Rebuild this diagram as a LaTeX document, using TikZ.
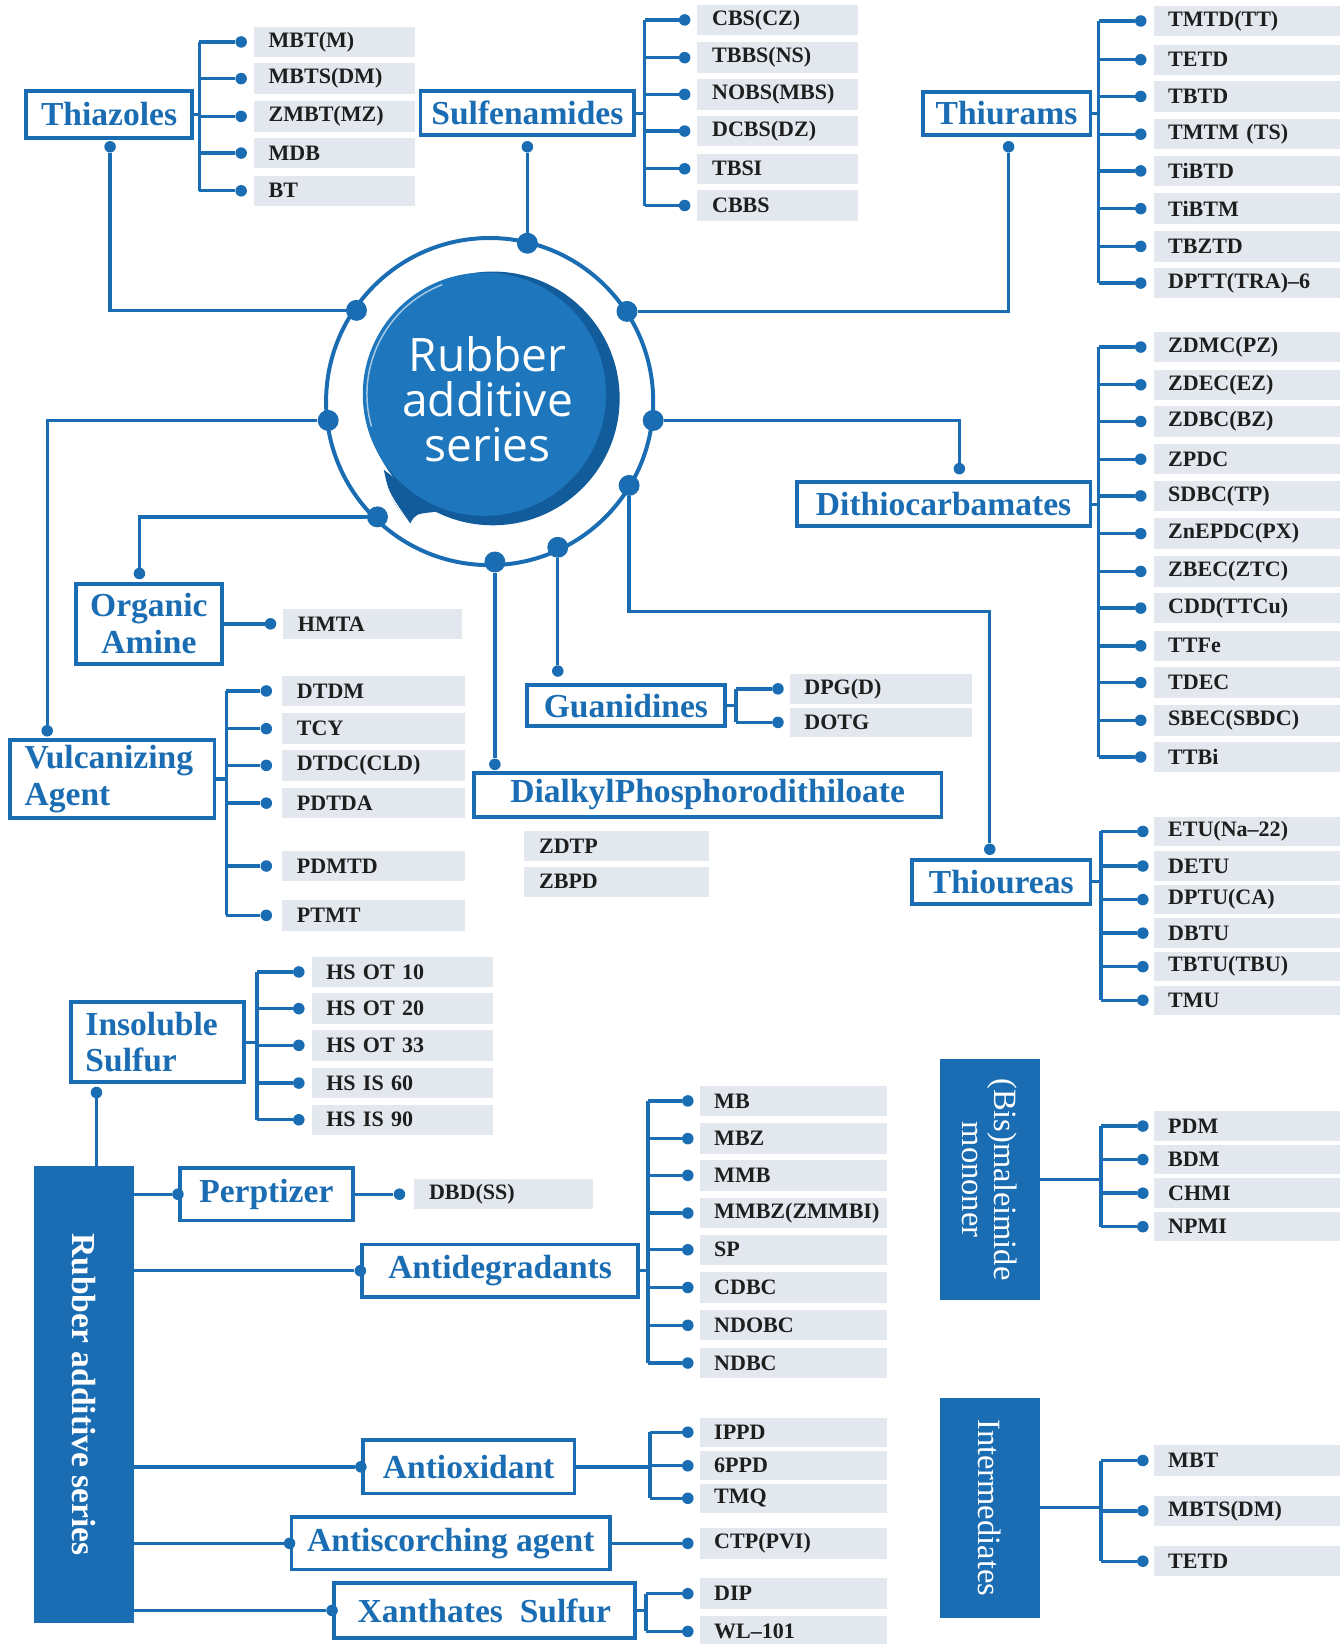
\documentclass[tikz,border=0pt]{standalone}
\usepackage{fontspec}
\setmainfont{Liberation Serif}
\newfontfamily\hubfont{Open Sans}
\usetikzlibrary{calc,positioning}
\definecolor{rbblue}{HTML}{1B6DB3}
\definecolor{rbdeep}{HTML}{135C9C}
\definecolor{rbcore}{HTML}{1E76BC}
\definecolor{itemgray}{HTML}{E2E8EE}
\definecolor{itemink}{HTML}{1E1E1E}
\tikzset{
    conn/.style={rbblue, line width=3.2pt},
    cat/.style={draw=rbblue, line width=3.6pt, fill=white, text=rbblue,
        font=\fontsize{32}{35}\selectfont\bfseries, inner sep=0pt},
    slab/.style={fill=rbblue, text=white, inner sep=0pt},
    item/.style={anchor=west, fill=itemgray, text=itemink,
        font=\fontsize{21}{23}\selectfont\bfseries, inner xsep=14pt, inner ysep=0pt,
        minimum height=29pt, text width=#1, align=left},
    item/.default=150pt,
    dot/.style={circle, fill=rbblue, inner sep=0pt, minimum size=11pt},
    hub/.style={circle, fill=rbblue, inner sep=0pt, minimum size=20pt}
}

\begin{document}
\begin{tikzpicture}[x=1pt, y=-1pt]
                    \useasboundingbox (0,0) rectangle (1279,1568);
                    % centre
                    \coordinate (core) at (467,383);
                    \draw[rbblue, line width=3.8pt] (core) circle (156);
                    \fill[rbdeep] (366,448) .. controls (372,475) .. (391,500) .. controls (396,490) .. (418,488) -- cycle;
                    \fill[rbdeep] (470,380) circle (121);
                    \fill[rbcore] (462,376) circle (116);
                    \draw[white, line width=1.4pt, opacity=.6] (462,376) ++(249:112) arc (249:164:112);
                    \draw[white, line width=1.2pt] (362,440) .. controls (370,470) .. (391,500);
                    \node[text=white, align=center, font=\hubfont\fontsize{44}{43}\selectfont] (hubtext) at (465,381) {Rubber\\additive\\series};
                    \node[hub] (rThz) at (340,296) {};
                    \node[hub] (rSul) at (503,232) {};
                    \node[hub] (rThr) at (598,297) {};
                    \node[hub] (rVul) at (313,401) {};
                    \node[hub] (rDtc) at (623,401) {};
                    \node[hub] (rOrg) at (360,493) {};
                    \node[hub] (rDia) at (472,536) {};
                    \node[hub] (rGua) at (532,522) {};
                    \node[hub] (rThu) at (600,463) {};

                    % groups round the centre
                    \node[cat, minimum width=158pt, minimum height=45pt] (thz) at (104,109) {Thiazoles};
                    \node[cat, minimum width=204pt, minimum height=42pt] (sul) at (503,108) {Sulfenamides};
                    \node[cat, minimum width=160pt, minimum height=41pt] (thr) at (960,108) {Thiurams};
                    \node[cat, minimum width=280pt, minimum height=42pt] (dtc) at (900,481) {Dithiocarbamates};
                    \node[cat, minimum width=139pt, minimum height=76pt, align=center] (org) at (142,595) {Organic\\Amine};
                    \node[cat, minimum width=195pt, minimum height=75pt, inner xsep=14pt, text width=167pt, align=left] (vul) at (107,743) {Vulcanizing\\Agent};
                    \node[cat, minimum width=189pt, minimum height=39pt] (gua) at (597,673) {Guanidines};
                    \node[cat, minimum width=446pt, minimum height=42pt] (dia) at (675,758) {DialkylPhosphorodithiloate};
                    \node[cat, minimum width=170pt, minimum height=42pt] (thu) at (955,841) {Thioureas};

                    \node[dot] (thzIn) at (105,140) {};
                    \node[dot] (sulIn) at (503,140) {};
                    \node[dot] (thrIn) at (962,140) {};
                    \node[dot] (dtcIn) at (915,447) {};
                    \node[dot] (orgIn) at (133,547) {};
                    \node[dot] (vulIn) at (45,697) {};
                    \node[dot] (guaIn) at (532,640) {};
                    \node[dot] (diaIn) at (472,729) {};
                    \node[dot] (thuIn) at (944,810) {};

                    \draw[conn] (rThz) -| (thzIn);
                    \draw[conn] (rSul) -- (sulIn);
                    \draw[conn] (rThr) -| (thrIn);
                    \draw[conn] (rVul) -| (vulIn);
                    \draw[conn] (rDtc) -| (dtcIn);
                    \draw[conn] (rOrg) -| (orgIn);
                    \draw[conn] (rDia) -- (diaIn);
                    \draw[conn] (rGua) -- (guaIn);
                    \draw[conn] (rThu) -- ++(0,120) -| (thuIn);

                    % item lists
                    \foreach \y/\t [count=\i] in {40/MBT(M), 75/MBTS(DM), 111/ZMBT(MZ), 146/MDB, 182/BT}{
                        \node[item=126pt] (thz\i) at (242,\y) {\t};
                        \node[dot] (thzd\i) at (230,\y) {};
                        \coordinate (thzb\i) at (190,\y);
                        \draw[conn] (thzb\i) -- (thzd\i);
                    }
                    \draw[conn] (thzb1) -- (thzb5);
                    \draw[conn] (thz.east) -- (thz.east -| thzb1);

                    \foreach \y/\t [count=\i] in {19/CBS(CZ), 55/TBBS(NS), 90/NOBS(MBS), 125/DCBS(DZ), 161/TBSI, 196/CBBS}{
                        \node[item=125pt] (sul\i) at (665,\y) {\t};
                        \node[dot] (suld\i) at (653,\y) {};
                        \coordinate (sulb\i) at (615,\y);
                        \draw[conn] (sulb\i) -- (suld\i);
                    }
                    \draw[conn] (sulb1) -- (sulb6);
                    \draw[conn] (sul.east) -- (sul.east -| sulb1);

                    \foreach \y/\t [count=\i] in {20/TMTD(TT), 57/TETD, 92/TBTD, 128/TMTM (TS), 163/TiBTD, 199/TiBTM, 235/TBZTD, 270/DPTT(TRA)--6}{
                        \node[item] (thr\i) at (1100,\y) {\t};
                        \node[dot] (thrd\i) at (1088,\y) {};
                        \coordinate (thrb\i) at (1048,\y);
                        \draw[conn] (thrb\i) -- (thrd\i);
                    }
                    \draw[conn] (thrb1) -- (thrb8);
                    \draw[conn] (thr.east) -- (thr.east -| thrb1);

                    \foreach \y/\t [count=\i] in {331/ZDMC(PZ), 367/ZDEC(EZ), 402/ZDBC(BZ), 438/ZPDC, 473/SDBC(TP), 509/ZnEPDC(PX), 545/ZBEC(ZTC), 580/CDD(TTCu), 616/TTFe, 651/TDEC, 687/SBEC(SBDC), 722/TTBi}{
                        \node[item] (dtc\i) at (1100,\y) {\t};
                        \node[dot] (dtcd\i) at (1088,\y) {};
                        \coordinate (dtcb\i) at (1048,\y);
                        \draw[conn] (dtcb\i) -- (dtcd\i);
                    }
                    \draw[conn] (dtcb1) -- (dtcb12);
                    \draw[conn] (dtc.east) -- (dtc.east -| dtcb1);

                    \node[item=142pt] (org1) at (270,595) {HMTA};
                    \node[dot] (orgd1) at (258,595) {};
                    \draw[conn] (org.east) -- (orgd1);

                    \foreach \y/\t [count=\i] in {659/DTDM, 695/TCY, 730/DTDC(CLD), 766/PDTDA, 826/PDMTD, 873/PTMT}{
                        \node[item=146pt] (vul\i) at (269,\y) {\t};
                        \node[dot] (vuld\i) at (254,\y) {};
                        \coordinate (vulb\i) at (216,\y);
                        \draw[conn] (vulb\i) -- (vuld\i);
                    }
                    \draw[conn] (vulb1) -- (vulb6);
                    \draw[conn] (vul.east) -- (vul.east -| vulb1);

                    \foreach \y/\t [count=\i] in {657/DPG(D), 689/DOTG}{
                        \node[item=146pt, minimum height=28pt] (gua\i) at (753,\y) {\t};
                        \node[dot] (guad\i) at (742,\y) {};
                        \coordinate (guab\i) at (702,\y);
                        \draw[conn] (guab\i) -- (guad\i);
                    }
                    \draw[conn] (guab1) -- (guab2);
                    \draw[conn] (gua.east) -- (gua.east -| guab1);

                    \node[item=148pt] (dia1) at (500,807) {ZDTP};
                    \node[item=148pt] (dia2) at (500,841) {ZBPD};

                    \foreach \y/\t [count=\i] in {793/ETU(Na--22), 826/DETU, 858/DPTU(CA), 890/DBTU, 922/TBTU(TBU), 954/TMU}{
                        \node[item, minimum height=28pt] (thu\i) at (1100,\y) {\t};
                        \node[dot] (thud\i) at (1090,\y) {};
                        \coordinate (thub\i) at (1050,\y);
                        \draw[conn] (thub\i) -- (thud\i);
                    }
                    \draw[conn] (thub1) -- (thub6);
                    \draw[conn] (thu.east) -- (thu.east -| thub1);

                    % lower half
                    \node[slab, minimum width=436pt, minimum height=95pt, rotate=-90, font=\fontsize{32}{35}\selectfont\bfseries] (ras) at (80,1330) {Rubber additive series};
                    \node[cat, minimum width=165pt, minimum height=76pt, inner xsep=14pt, text width=137pt, align=left] (ins) at (150,994) {Insoluble\\Sulfur};
                    \node[cat, minimum width=165pt, minimum height=50pt] (per) at (254,1139) {Perptizer};
                    \node[cat, minimum width=263pt, minimum height=50pt] (adg) at (477,1212) {Antidegradants};
                    \node[cat, minimum width=202pt, minimum height=51pt] (aox) at (447,1399) {Antioxidant};
                    \node[cat, minimum width=304pt, minimum height=50pt] (asc) at (430,1472) {Antiscorching agent};
                    \node[cat, minimum width=287pt, minimum height=52pt] (xan) at (462,1536) {Xanthates\ \ Sulfur};
                    \node[slab, minimum width=230pt, minimum height=95pt, rotate=-90, align=center, font=\fontsize{31}{30}\selectfont] (bis) at (944,1125) {(Bis)maleimide\\mononer};
                    \node[slab, minimum width=210pt, minimum height=95pt, rotate=-90, font=\fontsize{31}{30}\selectfont] (itm) at (944,1438) {Intermediates};

                    \node[dot] (insIn) at (92,1042) {};
                    \node[dot] (perIn) at (per.west) {};
                    \node[dot] (adgIn) at (adg.west) {};
                    \node[dot] (aoxIn) at (aox.west) {};
                    \node[dot] (ascIn) at (asc.west) {};
                    \node[dot] (xanIn) at (xan.west) {};
                    \draw[conn] (insIn) -- (insIn |- ras.west);
                    \draw[conn] (ras.north |- perIn) -- (perIn);
                    \draw[conn] (ras.north |- adgIn) -- (adgIn);
                    \draw[conn] (ras.north |- aoxIn) -- (aoxIn);
                    \draw[conn] (ras.north |- ascIn) -- (ascIn);
                    \draw[conn] (ras.north |- xanIn) -- (xanIn);

                    \foreach \y/\t [count=\i] in {927/HS OT 10, 962/HS OT 20, 997/HS OT 33, 1033/HS IS 60, 1068/HS IS 90}{
                        \node[item=145pt] (ins\i) at (297,\y) {\t};
                        \node[dot] (insd\i) at (285,\y) {};
                        \coordinate (insb\i) at (245,\y);
                        \draw[conn] (insb\i) -- (insd\i);
                    }
                    \draw[conn] (insb1) -- (insb5);
                    \draw[conn] (ins.east) -- (ins.east -| insb1);

                    \node[item=142pt] (per1) at (395,1139) {DBD(SS)};
                    \node[dot] (perd1) at (381,1139) {};
                    \draw[conn] (per.east) -- (perd1);

                    \foreach \y/\t [count=\i] in {1050/MB, 1086/MBZ, 1121/MMB, 1157/MMBZ(ZMMBI), 1192/SP, 1228/CDBC, 1264/NDOBC, 1300/NDBC}{
                        \node[item=151pt] (adg\i) at (667,\y) {\t};
                        \node[dot] (adgd\i) at (656,\y) {};
                        \coordinate (adgb\i) at (618,\y);
                        \draw[conn] (adgb\i) -- (adgd\i);
                    }
                    \draw[conn] (adgb1) -- (adgb8);
                    \draw[conn] (adg.east) -- (adg.east -| adgb1);

                    \foreach \y/\t [count=\i] in {1366/IPPD, 1398/6PPD, 1429/TMQ}{
                        \node[item=151pt, minimum height=28pt] (aox\i) at (667,\y) {\t};
                        \node[dot] (aoxd\i) at (656,\y) {};
                        \coordinate (aoxb\i) at (620,\y);
                        \draw[conn] (aoxb\i) -- (aoxd\i);
                    }
                    \draw[conn] (aoxb1) -- (aoxb3);
                    \draw[conn] (aox.east) -- (aox.east -| aoxb1);

                    \node[item=151pt] (asc1) at (667,1472) {CTP(PVI)};
                    \node[dot] (ascd1) at (656,1472) {};
                    \draw[conn] (asc.east) -- (ascd1);

                    \foreach \y/\t [count=\i] in {1520/DIP, 1556/WL--101}{
                        \node[item=151pt] (xan\i) at (667,\y) {\t};
                        \node[dot] (xand\i) at (656,\y) {};
                        \coordinate (xanb\i) at (616,\y);
                        \draw[conn] (xanb\i) -- (xand\i);
                    }
                    \draw[conn] (xanb1) -- (xanb2);
                    \draw[conn] (xan.east) -- (xan.east -| xanb1);

                    \foreach \y/\t [count=\i] in {1074/PDM, 1106/BDM, 1138/CHMI, 1170/NPMI}{
                        \node[item, minimum height=28pt] (bis\i) at (1100,\y) {\t};
                        \node[dot] (bisd\i) at (1090,\y) {};
                        \coordinate (bisb\i) at (1050,\y);
                        \draw[conn] (bisb\i) -- (bisd\i);
                    }
                    \draw[conn] (bisb1) -- (bisb4);
                    \draw[conn] (bis.north) -- (bis.north -| bisb1);

                    \foreach \y/\t [count=\i] in {1393/MBT, 1441/MBTS(DM), 1489/TETD}{
                        \node[item] (itm\i) at (1100,\y) {\t};
                        \node[dot] (itmd\i) at (1090,\y) {};
                        \coordinate (itmb\i) at (1050,\y);
                        \draw[conn] (itmb\i) -- (itmd\i);
                    }
                    \draw[conn] (itmb1) -- (itmb3);
                    \draw[conn] (itm.north) -- (itm.north -| itmb1);
                \end{tikzpicture}
\end{document}
